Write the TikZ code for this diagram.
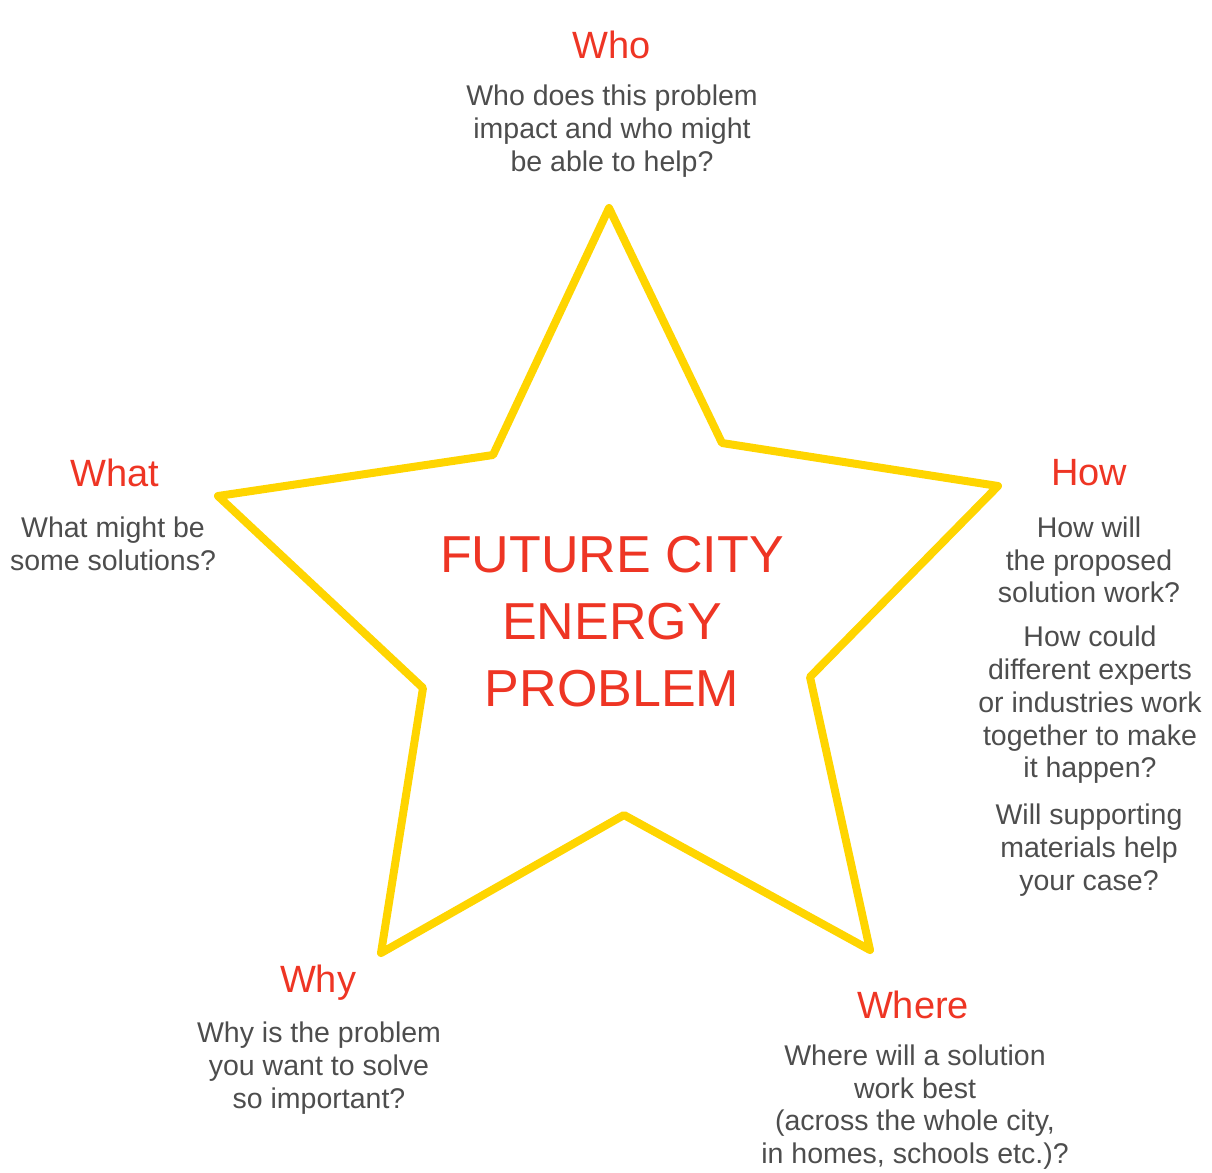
\documentclass[tikz,border=0pt]{standalone}
\usepackage{fontspec}
\setmainfont{Liberation Sans}
\definecolor{starY}{HTML}{FFD500}
\definecolor{hdRed}{HTML}{EE3524}
\definecolor{txtGrey}{HTML}{4D4D4D}
\begin{document}
\begin{tikzpicture}[x=1pt,y=-1pt,
  bodytext/.style={font=\fontsize{28.5}{32.7}\selectfont, text=txtGrey, align=center, inner sep=0pt},
  titletext/.style={font=\fontsize{38}{40}\selectfont, text=hdRed, inner sep=0pt},
  centertext/.style={font=\fontsize{52}{67}\selectfont, text=hdRed, align=center, inner sep=0pt},
  starline/.style={draw=starY, line width=8pt, line join=round, line cap=round}]
\useasboundingbox (0,0) rectangle (1212,1172);
% star
\coordinate (pT) at (609,208);
\coordinate (iTR) at (722,443);
\coordinate (pR) at (998,486);
\coordinate (iR) at (810,677);
\coordinate (pBR) at (870,950);
\coordinate (iB) at (624,815);
\coordinate (pBL) at (381,953);
\coordinate (iL) at (423,688);
\coordinate (pL) at (218,496);
\coordinate (iTL) at (493,455);
\draw[starline] (pT) -- (iTR) -- (pR) -- (iR) -- (pBR) -- (iB) -- (pBL) -- (iL) -- (pL) -- (iTL) -- cycle;
% center
\node[centertext] (center) at (612,622) {FUTURE CITY\\ENERGY\\PROBLEM};
% who
\node[titletext] (whoT) at (612,45) {Who};
\node[bodytext] (whoB) at (612,131) {Who does this problem\\impact and who might\\be able to help?};
% what
\node[titletext] (whatT) at (115,473) {What};
\node[bodytext] (whatB) at (113,544) {What might be\\some solutions?};
% how
\node[titletext] (howT) at (1089,473) {How};
\node[bodytext] (howB1) at (1089,560) {How will\\the proposed\\solution work?};
\node[bodytext] (howB2) at (1090,705) {How could\\different experts\\or industries work\\together to make\\it happen?};
\node[bodytext] (howB3) at (1089,850) {Will supporting\\materials help\\your case?};
% why
\node[titletext] (whyT) at (318,983) {Why};
\node[bodytext] (whyB) at (319,1068) {Why is the problem\\you want to solve\\so important?};
% where
\node[titletext] (whereT) at (913,1005) {Where};
\node[bodytext] (whereB) at (915,1107) {Where will a solution\\work best\\(across the whole city,\\in homes, schools etc.)?};
\end{tikzpicture}
\end{document}
